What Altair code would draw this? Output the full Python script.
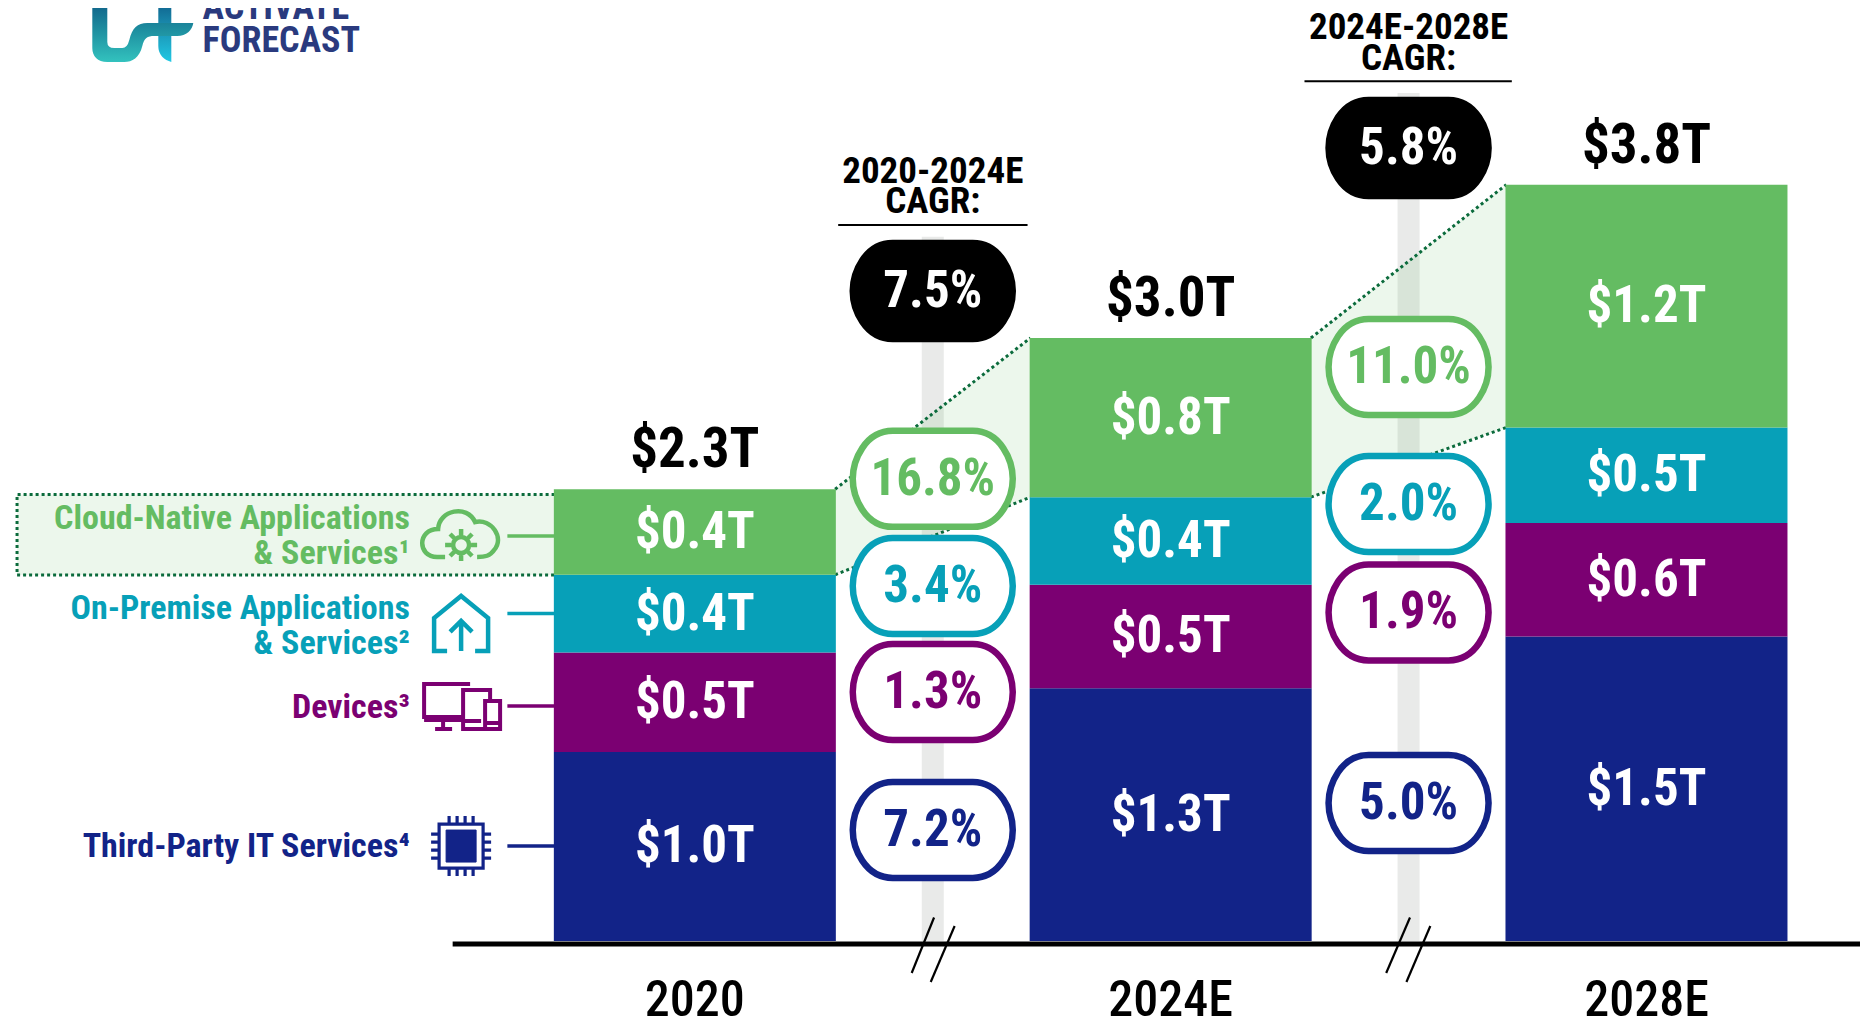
import altair as alt
import pandas as pd

FONT = "Roboto Condensed, Noto Sans Condensed, Open Sans Condensed, Arial Narrow, Roboto"
GREEN, TEAL, PURPLE, NAVY = "#64BC62", "#07A0B8", "#7B0072", "#122388"
DOT = "#0B6B3C"

# ---- values
years = [2020, 2024, 2028]
year_labels = ["2020", "2024E", "2028E"]
series = ["Third-Party IT Services", "Devices", "On-Premise", "Cloud-Native"]
colors = [NAVY, PURPLE, TEAL, GREEN]
third_party = [0.95, 1.27, 1.53]
devices = [0.50, 0.52, 0.57]
on_premise = [0.39, 0.44, 0.48]
cloud = [0.43, 0.80, 1.22]
third_party_lbl = ["$1.0T", "$1.3T", "$1.5T"]
devices_lbl = ["$0.5T", "$0.5T", "$0.6T"]
on_premise_lbl = ["$0.4T", "$0.4T", "$0.5T"]
cloud_lbl = ["$0.4T", "$0.8T", "$1.2T"]
total_lbl = ["$2.3T", "$3.0T", "$3.8T"]

cagr_years = [2022, 2026]
cagr_total = ["7.5%", "5.8%"]
cagr_total_y = [3.266, 3.985]
cagr_cloud = ["16.8%", "11.0%"]
cagr_cloud_y = [2.322, 2.884]
cagr_prem = ["3.4%", "2.0%"]
cagr_prem_y = [1.784, 2.196]
cagr_dev = ["1.3%", "1.9%"]
cagr_dev_y = [1.251, 1.651]
cagr_third = ["7.2%", "5.0%"]
cagr_third_y = [0.558, 0.693]
track_top = [3.538, 4.261]

# ---- scales (the chart's plot area is the whole page)
XDOM = [2014.268, 2029.795]
YDOM = [-0.382, 4.688]
W, H = 1857, 1009
BAR_W = 282
HALF_YEARS = 1.179


def X(f="x:Q", **kw):
    return alt.X(f, scale=alt.Scale(domain=XDOM, nice=False, zero=False), axis=None, **kw)


def Y(f="y:Q", **kw):
    return alt.Y(f, scale=alt.Scale(domain=YDOM, nice=False, zero=False), axis=None, **kw)


rows = []
for si, (s, vals, lbls) in enumerate(zip(series, [third_party, devices, on_premise, cloud],
                                         [third_party_lbl, devices_lbl, on_premise_lbl, cloud_lbl])):
    for yi, yr in enumerate(years):
        base = sum(v[yi] for v in [third_party, devices, on_premise, cloud][:si])
        rows.append(dict(x=yr, series=s, o=si, v=vals[yi], y=base, y2=base + vals[yi],
                         mid=base + vals[yi] / 2, label=lbls[yi]))
df = pd.DataFrame(rows)
totals = [sum(v) for v in zip(third_party, devices, on_premise, cloud)]

color = alt.Color("series:N", scale=alt.Scale(domain=series, range=colors), legend=None)
bars = alt.Chart(df).mark_bar(width=BAR_W).encode(
    x=X(), y=Y("y:Q"), y2="y2:Q", color=color)
bar_text = alt.Chart(df).mark_text(font=FONT, fontSize=51, fontWeight="bold", color="white", dy=1).encode(
    x=X(), y=Y("mid:Q"), text="label:N")
total_text = alt.Chart(pd.DataFrame({"x": years, "y": totals, "t": total_lbl})).mark_text(
    font=FONT, fontSize=55, fontWeight="bold", color="black", dy=-39).encode(x=X(), y=Y(), text="t:N")
year_text = alt.Chart(pd.DataFrame({"x": years, "y": [-0.30] * 3, "t": year_labels})).mark_text(
    font=FONT, fontSize=50, fontWeight=500, color="black").encode(x=X(), y=Y(), text="t:N")

# grey CAGR tracks
tracks = alt.Chart(pd.DataFrame({"x": cagr_years, "y": track_top, "y0": [0, 0]})).mark_rule(
    strokeWidth=22, color="#E9EAE9").encode(x=X(), y=Y(), y2="y0:Q")

# green band joining the cloud segments
band_rows, line_rows = [], []
for i in range(2):
    xa, xb = years[i] + HALF_YEARS, years[i + 1] - HALF_YEARS
    ta, tb = totals[i], totals[i + 1]
    ba, bb = ta - cloud[i], tb - cloud[i + 1]
    band_rows += [dict(g=i, x=xa, y=ta, y0=ba), dict(g=i, x=xb, y=tb, y0=bb)]
    line_rows += [dict(g=f"t{i}", x=xa, y=ta), dict(g=f"t{i}", x=xb, y=tb),
                  dict(g=f"b{i}", x=xa, y=ba), dict(g=f"b{i}", x=xb, y=bb)]
leg_left, leg_right, leg_top, leg_bot = 2014.302, 2018.821, 2.243, 1.839
band_rows += [dict(g=2, x=leg_left, y=leg_top, y0=leg_bot), dict(g=2, x=leg_right, y=leg_top, y0=leg_bot)]
line_rows += [dict(g="lt", x=leg_right, y=leg_top), dict(g="lt", x=leg_left, y=leg_top),
              dict(g="lt", x=leg_left, y=leg_bot), dict(g="lt", x=leg_right, y=leg_bot)]
bands = alt.Chart(pd.DataFrame(band_rows)).mark_area(color=GREEN, opacity=0.12).encode(
    x=X(), y=Y(), y2="y0:Q", detail="g:N")
# keep the drawing order of the outline as listed
dots = alt.Chart(pd.DataFrame(line_rows).assign(i=lambda d: range(len(d)))).mark_line(
    color=DOT, strokeWidth=3, strokeDash=[3, 3]).encode(x=X(), y=Y(), detail="g:N", order="i:Q")

# pills
PILL = ("M-40,-48 L40,-48 C68,-48 80,-18 80,0 C80,18 68,48 40,48 L-40,48 "
        "C-68,48 -80,18 -80,0 C-80,-18 -68,-48 -40,-48 Z")
pill_layers = []
for vals, ys, stroke, fill, txt in [(cagr_total, cagr_total_y, "#000000", "#000000", "#FFFFFF"),
                                    (cagr_cloud, cagr_cloud_y, GREEN, "#FFFFFF", GREEN),
                                    (cagr_prem, cagr_prem_y, TEAL, "#FFFFFF", TEAL),
                                    (cagr_dev, cagr_dev_y, PURPLE, "#FFFFFF", PURPLE),
                                    (cagr_third, cagr_third_y, NAVY, "#FFFFFF", NAVY)]:
    d = pd.DataFrame({"x": cagr_years, "y": ys, "t": vals})
    pill_layers.append(alt.Chart(d).mark_point(shape=PILL, size=4, filled=True, fill=fill, stroke=stroke,
                                               strokeWidth=6.5, opacity=1).encode(x=X(), y=Y()))
    pill_layers.append(alt.Chart(d).mark_text(font=FONT, fontSize=51, fontWeight="bold", color=txt, dy=1).encode(
        x=X(), y=Y(), text="t:N"))

# CAGR headers
head = alt.Chart(pd.DataFrame({
    "x": [2022, 2022, 2026, 2026],
    "y": [3.864, 3.714, 4.588, 4.432],
    "t": ["2020-2024E", "CAGR:", "2024E-2028E", "CAGR:"]})).mark_text(
    font=FONT, fontSize=37, fontWeight="bold", color="black").encode(x=X(), y=Y(), text="t:N")
head_rule = alt.Chart(pd.DataFrame({"x": [2021.205, 2025.125], "x1": [2022.797, 2026.868],
                                    "y": [3.598, 4.320]})).mark_rule(color="black", strokeWidth=2).encode(
    x=X(), x2="x1:Q", y=Y())

# baseline & axis breaks
baseline = alt.Chart(pd.DataFrame({"x": [2017.964], "x1": [2029.795], "y": [-0.015]})).mark_rule(
    color="black", strokeWidth=5).encode(x=X(), x2="x1:Q", y=Y())
breaks = alt.Chart(pd.DataFrame({
    "x": [2022.011, 2022.184, 2026.012, 2026.183],
    "x1": [2021.823, 2021.983, 2025.812, 2025.982],
    "y": [0.118, 0.075, 0.118, 0.075],
    "y1": [-0.161, -0.206, -0.161, -0.206]})).mark_rule(color="black", strokeWidth=2.2).encode(
    x=X(), x2="x1:Q", y=Y(), y2="y1:Q")

# legend labels, connectors, icons
LEG_X = 2017.604
leg_text = [("Cloud-Native Applications", 2.118, GREEN), ("& Services¹", 1.945, GREEN),
            ("On-Premise Applications", 1.666, TEAL), ("& Services²", 1.492, TEAL),
            ("Devices³", 1.171, PURPLE), ("Third-Party IT Services⁴", 0.472, NAVY)]
leg_layers = [alt.Chart(pd.DataFrame({"x": [LEG_X], "y": [y], "t": [t]})).mark_text(
    font=FONT, fontSize=34, fontWeight="bold", color=c, align="right").encode(x=X(), y=Y(), text="t:N")
    for t, y, c in leg_text]
conn_layers = [alt.Chart(pd.DataFrame({"x": [2018.424], "x1": [2018.821], "y": [y]})).mark_rule(
    color=c, strokeWidth=3.5).encode(x=X(), x2="x1:Q", y=Y())
    for y, c in [(2.035, GREEN), (1.646, TEAL), (1.181, PURPLE), (0.477, NAVY)]]

ICON_X = 2018.035
CLOUD = ("M-16,23 L-24,23 C-44,23 -44,-5 -23,-5 C-22,-24 6,-30 14,-12 C30,-16 44,4 33,16 C29,22 24,23 16,23 "
         "M8,11 A8,8 0 1 1 -8,11 A8,8 0 1 1 8,11 M0,-5 L0,1 M0,21 L0,27 M-16,11 L-10,11 M10,11 L16,11 "
         "M-11,0 L-7,4 M11,22 L7,18 M-11,22 L-7,18 M11,0 L7,4")
HOUSE = ("M-14,27 L-27,27 L-27,-6 L0,-28 L27,-6 L27,27 L14,27 M0,27 L0,-3 M-11,8 L0,-3 L11,8")
DEVICES = ("M9,-22 L-37,-22 L-37,11 L0,11 M-37,14 L0,14 M-18,15 L-18,21 M-26,23 L-9,23 "
           "M29,-7 L29,-16 L2,-16 L2,23 L22,23 M2,15 L20,15 "
           "M24,-5 L39,-5 L39,23 L24,23 Z M24,17 L39,17")
CHIP = ("M-22,-22 L22,-22 L22,22 L-22,22 Z "
        "M-12,-22 L-12,-30 M-4,-22 L-4,-30 M4,-22 L4,-30 M12,-22 L12,-30 "
        "M-12,22 L-12,30 M-4,22 L-4,30 M4,22 L4,30 M12,22 L12,30 "
        "M-22,-12 L-30,-12 M-22,-4 L-30,-4 M-22,4 L-30,4 M-22,12 L-30,12 "
        "M22,-12 L30,-12 M22,-4 L30,-4 M22,4 L30,4 M22,12 L30,12")
CHIP_CORE = "M-15,-16 L15,-16 L15,16 L-15,16 Z"
icons = [(CLOUD, 2.045, GREEN, 4.5), (HOUSE, 1.593, TEAL, 4.5), (DEVICES, 1.181, PURPLE, 4), (CHIP, 0.477, NAVY, 3.2)]
icon_layers = [alt.Chart(pd.DataFrame({"x": [ICON_X], "y": [y]})).mark_point(
    shape=p, size=4, filled=False, stroke=c, strokeWidth=w, opacity=1).encode(x=X(), y=Y())
    for p, y, c, w in icons]
icon_layers.append(alt.Chart(pd.DataFrame({"x": [ICON_X], "y": [0.477]})).mark_point(
    shape=CHIP_CORE, size=4, filled=True, fill=NAVY, stroke=NAVY, strokeWidth=1, opacity=1).encode(x=X(), y=Y()))

# logo
LOGO_A = ("M-50,-38 L-35,-38 L-35,12 Q-35,18 -28,18 L-20,18 Q-15,18 -13,10 C-10,-2 -5,-7 5,-7 L51,-7 "
          "C50,0 44,6 35,6 L12,6 C5,6 2,8 0,16 C-3,28 -10,32 -18,32 L-35,32 C-45,32 -50,26 -50,18 Z")
LOGO_B = "M16,-38 L29,-38 L29,32 C22,30 16,25 16,16 Z"
grad_a = alt.LinearGradient(gradient="linear", x1=0, y1=0, x2=0, y2=1,
                            stops=[alt.GradientStop(color="#0A4F7F", offset=0),
                                   alt.GradientStop(color="#1E8FA0", offset=0.55),
                                   alt.GradientStop(color="#33C2BE", offset=1)])
grad_b = alt.LinearGradient(gradient="linear", x1=0, y1=0, x2=0, y2=1,
                            stops=[alt.GradientStop(color="#0A4F7F", offset=0),
                                   alt.GradientStop(color="#1B8FB0", offset=0.5),
                                   alt.GradientStop(color="#20C8E4", offset=1)])
logo_pos = pd.DataFrame({"x": [2015.355], "y": [4.578]})
logo = [alt.Chart(logo_pos).mark_point(shape=LOGO_B, size=4, filled=True, fill=grad_b, opacity=1, strokeWidth=0).encode(x=X(), y=Y()),
        alt.Chart(logo_pos).mark_point(shape=LOGO_A, size=4, filled=True, fill=grad_a, opacity=1, strokeWidth=0).encode(x=X(), y=Y())]
logo_text = alt.Chart(pd.DataFrame({"x": [2015.862, 2015.862], "y": [4.69, 4.52], "t": ["ACTIVATE", "FORECAST"]})).mark_text(
    font=FONT, fontSize=36, fontWeight="bold", color="#2A3A7E", align="left").encode(x=X(), y=Y(), text="t:N")

chart = alt.layer(
    tracks, bands, dots, bars, bar_text, total_text, year_text, *pill_layers, head, head_rule, baseline, breaks,
    *leg_layers, *conn_layers, *icon_layers, *logo, logo_text
).properties(
    width=W, height=H, padding=0, autosize=alt.AutoSizeParams(type="none"), background="white"
).configure_view(stroke=None)

chart.save("out.html", embed_options={"renderer": "svg", "actions": False})
